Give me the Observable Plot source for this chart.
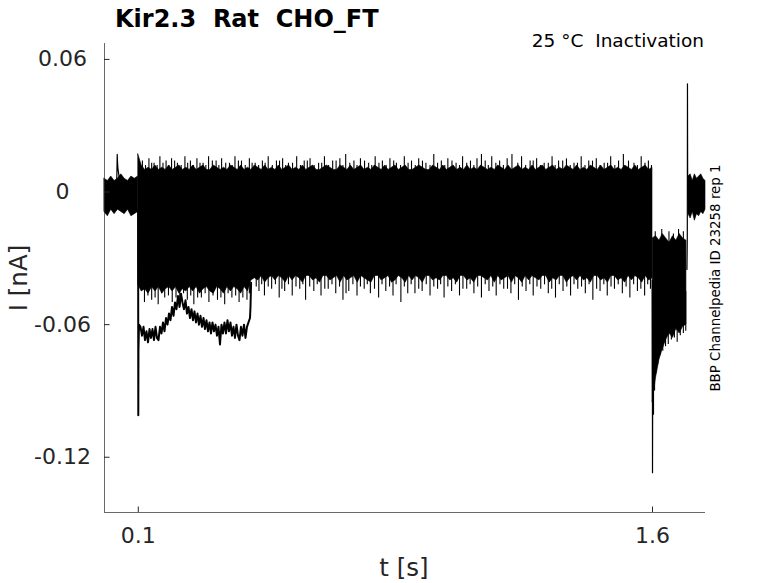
<!DOCTYPE html>
<html><head><meta charset="utf-8">
<script src="https://cdn.jsdelivr.net/npm/d3@7"></script>
<script src="https://cdn.jsdelivr.net/npm/@observablehq/plot@0.6"></script>
<style>body{margin:0;background:#fff} #chart{position:relative;width:778px;height:583px}</style>
</head><body><div id="chart"></div>
<script>
// ---- axis ticks ----
const xTicks = [0.1, 1.6];
const xTickLabels = ["0.1", "1.6"];
const yTicks = [0.06, 0, -0.06, -0.12];
const yTickLabels = ["0.06", "0", "-0.06", "-0.12"];
const xDomain = [0.0014, 1.7546];
const yDomain = [-0.145, 0.0672];

// ---- envelope of all sweeps, values in pA (1 pA = 0.001 nA) ----
// before the step
const preSpan = [0.0014, 0.0995];
const preHi = [6, 5, 7, 5, 6, 8, 6, 5, 7, 6, 7];
const preLo = [-9, -11, -8, -10, -8, -9, -10, -8, -11, -10, -9];

// during the step (0.10 .. 1.60 s, every 0.01 s)
const pulseSpan = [0.100, 1.600];
const pulseHi = [
  17,12,10,11,10,12,10,11,10,12,
  10,11,12,10,11,10,12,10,11,12,
  10,10,12,11,10,11,10,12,11,10,
  12,10,11,10,12,11,10,12,10,11,
  10,12,10,11,12,10,11,10,12,10,
  11,12,10,10,11,12,11,10,10,12,
  11,10,12,10,11,12,10,11,10,12,
  11,10,12,10,11,12,10,11,12,10,
  10,11,12,11,10,10,12,11,10,12,
  10,11,12,10,11,10,12,10,11,10,
  12,11,10,11,10,12,11,10,12,10,
  11,12,10,11,10,12,10,11,12,10,
  11,12,10,11,10,12,11,10,12,10,
  11,10,12,11,10,12,10,11,12,10,
  11,10,12,11,10,12,10,11,12,10,
  11
];
const pulseLo = [
  -42,-45,-44,-46,-43,-45,-43,-46,-44,-43,
  -45,-43,-46,-44,-45,-43,-45,-43,-46,-44,
  -43,-45,-46,-43,-44,-46,-43,-45,-43,-44,
  -46,-43,-45,-40,-39,-40,-38,-41,-39,-38,
  -40,-38,-39,-41,-38,-40,-38,-39,-41,-38,
  -38,-40,-39,-41,-38,-38,-40,-39,-38,-41,
  -38,-40,-39,-38,-41,-38,-39,-40,-41,-38,
  -38,-40,-39,-38,-41,-40,-38,-39,-41,-38,
  -40,-38,-39,-41,-38,-38,-40,-39,-40,-38,
  -38,-40,-39,-41,-38,-38,-40,-39,-41,-38,
  -38,-39,-40,-38,-41,-38,-40,-39,-38,-41,
  -38,-39,-41,-38,-40,-38,-39,-40,-38,-38,
  -41,-39,-40,-38,-38,-41,-39,-38,-40,-38,
  -40,-39,-41,-38,-38,-40,-39,-41,-38,-38,
  -40,-39,-41,-38,-40,-38,-39,-41,-38,-40,
  -39
];
// noise spikes sticking out of the envelope during the step: [t (s), tip (pA)]
const topSpikes = [
  [0.112,14],[0.131,15],[0.146,13],[0.163,16],[0.181,14],[0.197,15],[0.214,13],[0.236,16],
  [0.252,14],[0.271,15],[0.289,13],[0.305,16],[0.327,14],[0.343,15],[0.366,13],[0.382,16],
  [0.401,14],[0.424,15],[0.441,13],[0.462,14],[0.479,16],[0.503,14],[0.521,15],[0.538,13],
  [0.562,16],[0.584,14],[0.601,15],[0.626,13],[0.643,16],[0.667,14],[0.688,15],[0.705,17],
  [0.729,14],[0.748,15],[0.772,13],[0.791,16],[0.812,14],[0.834,15],[0.853,13],[0.876,16],
  [0.897,14],[0.918,15],[0.939,13],[0.962,17],[0.984,14],[1.003,15],[1.027,13],[1.046,16],
  [1.069,14],[1.088,15],[1.101,17],[1.131,16],[1.154,14],[1.176,15],[1.190,17],[1.218,16],
  [1.243,14],[1.262,15],[1.284,13],[1.307,16],[1.326,14],[1.349,15],[1.371,13],[1.392,16],
  [1.414,14],[1.436,15],[1.459,13],[1.478,16],[1.501,14],[1.515,17],[1.546,13],[1.567,16],
  [1.588,14],
  [0.121,12],[0.139,13],[0.155,12],[0.172,13],[0.189,12],[0.206,14],[0.225,12],[0.244,13],
  [0.261,12],[0.280,13],[0.297,12],[0.316,14],[0.335,12],[0.355,13],[0.374,12],[0.392,14],
  [0.412,12],[0.432,13],[0.451,12],[0.470,13],[0.491,12],[0.512,14],[0.530,12],[0.550,13],
  [0.573,12],[0.593,14],[0.613,12],[0.635,13],[0.655,12],[0.677,14],[0.697,12],[0.717,13],
  [0.738,12],[0.760,14],[0.781,12],[0.802,13],[0.823,12],[0.845,14],[0.865,12],[0.887,13],
  [0.908,12],[0.929,14],[0.951,12],[0.973,13],[0.994,12],[1.015,14],[1.037,12],[1.058,13],
  [1.079,12],[1.112,14],[1.121,12],[1.143,13],[1.165,12],[1.207,13],[1.230,12],[1.252,14],
  [1.273,12],[1.296,13],[1.316,12],[1.338,14],[1.360,12],[1.381,13],[1.403,12],[1.425,14],
  [1.447,12],[1.469,13],[1.490,12],[1.530,14],[1.556,12],[1.578,13],[1.597,12]
];
const bottomSpikes = [
  [0.118,-50],[0.139,-49],[0.158,-51],[0.177,-48],[0.199,-50],[0.221,-52],[0.243,-49],[0.262,-51],
  [0.284,-48],[0.306,-50],[0.331,-49],[0.352,-51],[0.373,-48],[0.394,-50],[0.417,-49],[0.452,-45],
  [0.468,-47],[0.489,-44],[0.511,-48],[0.527,-45],[0.549,-47],[0.571,-44],[0.588,-49],[0.612,-45],
  [0.633,-47],[0.654,-44],[0.676,-46],[0.697,-49],[0.714,-45],[0.738,-47],[0.759,-44],[0.777,-46],
  [0.801,-48],[0.822,-45],[0.843,-47],[0.866,-50],[0.886,-46],[0.907,-46],[0.928,-45],[0.951,-47],
  [0.973,-44],[0.992,-48],[1.014,-45],[1.037,-47],[1.058,-44],[1.079,-46],[1.101,-48],[1.123,-45],
  [1.144,-47],[1.166,-44],[1.187,-46],[1.209,-49],[1.231,-45],[1.252,-47],[1.274,-44],[1.296,-46],
  [1.317,-48],[1.339,-45],[1.361,-47],[1.382,-44],[1.404,-46],[1.426,-49],[1.447,-45],[1.468,-47],
  [1.489,-44],[1.512,-46],[1.534,-48],[1.556,-45],[1.577,-47],[1.594,-44],
  [0.128,-47],[0.149,-48],[0.168,-46],[0.188,-47],[0.210,-48],[0.232,-46],[0.253,-47],[0.273,-48],
  [0.295,-46],[0.318,-47],[0.341,-48],[0.362,-46],[0.384,-47],[0.405,-48],[0.424,-46],[0.444,-43],
  [0.460,-42],[0.479,-43],[0.500,-42],[0.519,-44],[0.538,-42],[0.560,-43],[0.580,-42],[0.600,-43],
  [0.622,-42],[0.644,-44],[0.665,-42],[0.687,-43],[0.706,-46],[0.726,-42],[0.748,-43],[0.768,-42],
  [0.789,-44],[0.811,-42],[0.833,-43],[0.852,-42],[0.876,-43],[0.896,-42],[0.918,-44],[0.940,-42],
  [0.962,-43],[0.982,-42],[1.003,-43],[1.025,-42],[1.047,-44],[1.068,-42],[1.090,-43],[1.112,-42],
  [1.134,-43],[1.155,-42],[1.177,-44],[1.198,-42],[1.220,-43],[1.242,-42],[1.263,-43],[1.285,-42],
  [1.306,-44],[1.328,-42],[1.350,-43],[1.371,-42],[1.393,-43],[1.415,-42],[1.437,-44],[1.458,-42],
  [1.479,-43],[1.500,-42],[1.523,-43],[1.545,-42],[1.566,-44],[1.586,-42]
];

// after the step
const postSpan = [1.6005, 1.699];
const postHi = [-21, -20, -22, -19, -21, -23, -20, -22, -19, -21, -22];
const postLo = [-95, -84, -76, -71, -67, -64, -66, -62, -64, -61, -60];
const postTopSpikes = [[1.608,-18],[1.627,-17],[1.648,-18],[1.661,-19],[1.676,-17],[1.690,-18]];
const postBottomSpikes = [
  [1.6030,-101],[1.6060,-90],[1.6100,-82],[1.6150,-78],[1.6220,-74],[1.6300,-72],[1.6380,-70],
  [1.6460,-69],[1.6550,-67],[1.6640,-66],[1.6720,-68],[1.6810,-65],[1.6900,-64],[1.6970,-63]
];

// back at holding
const tailSpan = [1.705, 1.7546];
const tailHi = [7, 8, 5, 8, 6, 7, 8, 6, 5];
const tailLo = [-10, -12, -9, -13, -10, -11, -9, -10, -8];

// ---- single sweeps / transients: [t (s), I (pA)] ----
const preSpike = [[0.0370, 4], [0.0385, 17], [0.0395, 13], [0.0410, 10], [0.0440, 7], [0.0470, 5]];
const deepSweep = [
  [0.0995,-8],[0.1000,-101],[0.1004,-72],[0.1020,-60],[0.1064,-61],[0.1108,-65],[0.1152,-61],
  [0.1196,-67],[0.1239,-63],[0.1283,-68],[0.1327,-62],[0.1370,-66],[0.1414,-62],[0.1458,-67],
  [0.1502,-61],[0.1545,-66],[0.1589,-67],[0.1633,-61],[0.1677,-64],[0.1720,-59],[0.1764,-63],
  [0.1808,-57],[0.1852,-60],[0.1895,-55],[0.1939,-58],[0.1983,-52],[0.2027,-56],[0.2070,-50],
  [0.2114,-53],[0.2158,-47],[0.2202,-52],[0.2245,-46],[0.2289,-50],[0.2333,-53],[0.2377,-49],
  [0.2420,-55],[0.2464,-52],[0.2508,-57],[0.2552,-53],[0.2595,-58],[0.2639,-54],[0.2683,-59],
  [0.2727,-55],[0.2770,-60],[0.2814,-56],[0.2858,-61],[0.2902,-57],[0.2945,-62],[0.2989,-58],
  [0.3033,-63],[0.3077,-59],[0.3120,-64],[0.3164,-59],[0.3208,-63],[0.3252,-60],[0.3295,-65],
  [0.3339,-61],[0.3383,-69],[0.3427,-60],[0.3470,-64],[0.3514,-59],[0.3558,-64],[0.3602,-58],
  [0.3645,-63],[0.3689,-59],[0.3733,-65],[0.3777,-61],[0.3820,-66],[0.3864,-60],[0.3908,-65],
  [0.3952,-67],[0.3995,-61],[0.4039,-65],[0.4083,-60],[0.4127,-66],[0.4170,-61],[0.4214,-59],
  [0.4258,-57],[0.4273,-52],[0.4290,-41]
];
const offSpike = [[1.5995, -40], [1.6000, -127], [1.6004, -100], [1.6010, -88]];
const endSpike = [[1.7005, -35], [1.7015, -20], [1.7020, 49], [1.7026, 2], [1.7035, -3]];
// levels inside the bands from which the noise spikes start (pA)
const spikeBase = {top: 5, bottom: -33, postTop: -25, postBottom: -45};

// ---- build ----
function segment(span, hi, lo) {
  const n = Math.min(hi.length, lo.length);
  return d3.range(n).map(i => ({
    t: span[0] + (span[1] - span[0]) * i / (n - 1),
    hi: hi[i] / 1000, lo: lo[i] / 1000
  }));
}
const segments = [
  segment(preSpan, preHi, preLo),
  segment(pulseSpan, pulseHi, pulseLo),
  segment(postSpan, postHi, postLo),
  segment(tailSpan, tailHi, tailLo)
];
const sweeps = [preSpike, offSpike, endSpike];
const spikeSets = [
  [topSpikes, spikeBase.top], [bottomSpikes, spikeBase.bottom],
  [postTopSpikes, spikeBase.postTop], [postBottomSpikes, spikeBase.postBottom]
];

const axisColor = "#262626";
const marks = [];
for (const s of segments) {
  marks.push(Plot.areaY(s, {x: "t", y1: "lo", y2: "hi", fill: "black", stroke: "black", strokeWidth: 0.6}));
}
for (const [set, base] of spikeSets) {
  marks.push(Plot.ruleX(set, {x: d => d[0], y1: base / 1000, y2: d => d[1] / 1000, stroke: "black", strokeWidth: 1.1}));
}
marks.push(Plot.line(deepSweep, {x: d => d[0], y: d => d[1] / 1000, stroke: "black", strokeWidth: 2}));
for (const s of sweeps) {
  marks.push(Plot.line(s, {x: d => d[0], y: d => d[1] / 1000, stroke: "black", strokeWidth: 1.2}));
}
marks.push(
  Plot.ruleX([xDomain[0]], {stroke: axisColor, strokeWidth: 0.7}),
  Plot.ruleY([yDomain[0]], {stroke: axisColor, strokeWidth: 0.7}),
  Plot.axisX({ticks: xTicks, tickSize: -5.5, tickPadding: 20.2, label: null, color: axisColor, fontSize: 22,
    tickFormat: d => xTickLabels[xTicks.indexOf(d)]}),
  Plot.axisY({ticks: yTicks, tickSize: -5.5, tickPadding: 47.5, label: null, color: axisColor, fontSize: 22,
    textAnchor: "middle", tickFormat: d => yTickLabels[yTicks.indexOf(d)]})
);

const chart = Plot.plot({
  width: 778, height: 583,
  marginLeft: 104, marginRight: 73, marginTop: 43, marginBottom: 71,
  style: {fontFamily: "DejaVu Sans", background: "white", overflow: "visible"},
  x: {domain: xDomain},
  y: {domain: yDomain},
  marks
});
document.getElementById("chart").appendChild(chart);

const svg = d3.select(chart);
const fam = "DejaVu Sans";
svg.append("text").attr("x", 115).attr("y", 27).attr("text-anchor", "start").attr("font-family", fam).attr("font-size", 24)
  .attr("font-weight", "bold").attr("fill", "#000").style("white-space", "pre").text("Kir2.3  Rat  CHO_FT");
svg.append("text").attr("x", 704).attr("y", 47).attr("text-anchor", "end").attr("font-family", fam)
  .attr("font-size", 18.5).attr("fill", "#000").style("white-space", "pre").text("25 °C  Inactivation");
svg.append("text").attr("transform", "translate(720,278) rotate(-90)").attr("text-anchor", "middle")
  .attr("font-family", fam).attr("font-size", 13.4).attr("fill", "#000").text("BBP Channelpedia ID 23258 rep 1");
svg.append("text").attr("transform", "translate(27,278) rotate(-90)").attr("text-anchor", "middle")
  .attr("font-family", fam).attr("font-size", 24.5).attr("fill", axisColor).text("I [nA]");
svg.append("text").attr("x", 404).attr("y", 576).attr("text-anchor", "middle")
  .attr("font-family", fam).attr("font-size", 24.5).attr("fill", axisColor).text("t [s]");
</script>
</body></html>
